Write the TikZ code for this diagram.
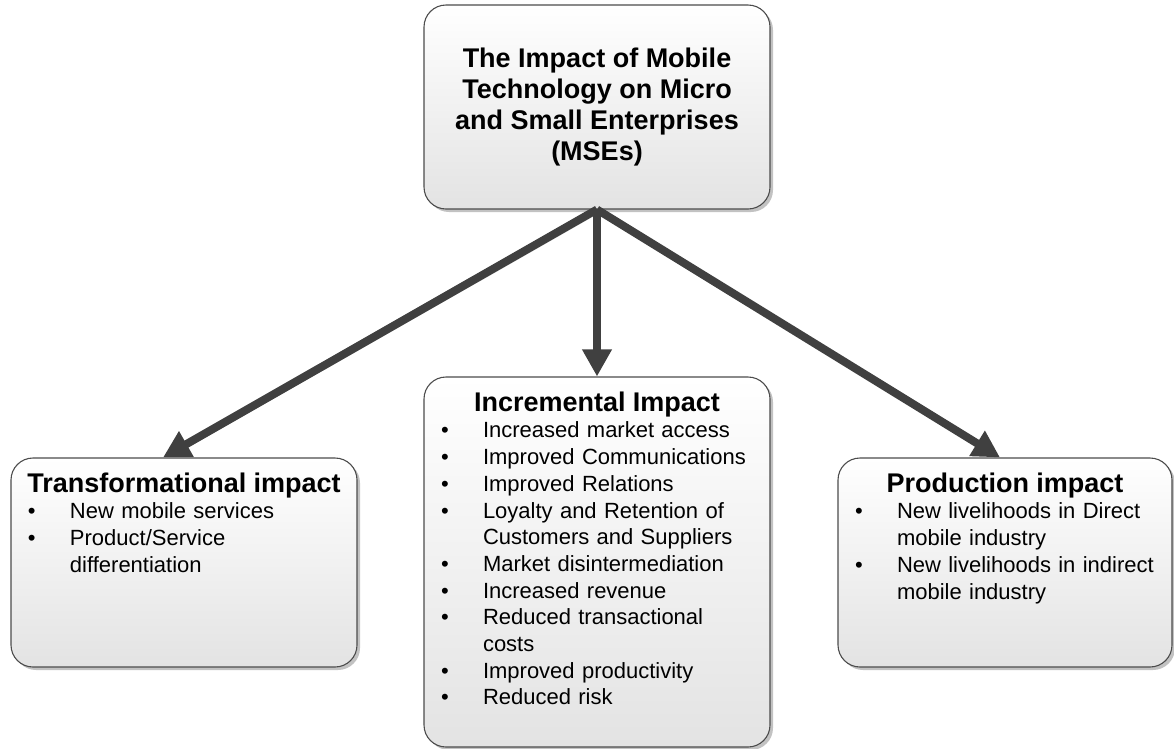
\documentclass[tikz,border=0pt]{standalone}
\usepackage{fontspec}
\setmainfont{Liberation Sans}
\usepackage{tikz}
\usetikzlibrary{positioning, arrows.meta, shadows}

% bullet line with hanging indent, and a centred bold heading
\newcommand{\bitem}[1]{\par\noindent\hangindent=43pt\hangafter=1\makebox[43pt][l]{\hspace{1pt}\textbullet}#1}
\newcommand{\boxhead}[1]{\noindent\makebox[\linewidth][c]{\fontsize{27}{31}\selectfont\bfseries #1}\par}

\begin{document}
\begin{tikzpicture}[
				x=1pt, y=-1pt,
				box/.style={
					rectangle,
					draw=black!70,
					line width=1.1pt,
					rounded corners=22pt,
					top color=white,
					bottom color=black!11,
					drop shadow={shadow xshift=3pt, shadow yshift=-3pt, fill=black!40, opacity=0.6},
					minimum width=346pt,
					inner sep=0pt
				},
				boxtext/.style={inner sep=0pt, align=left, font=\fontsize{22}{26.7}\selectfont},
				arrow/.style={-{Triangle[width=28pt,length=27pt]}, line width=8pt, draw=black!75}
				]
				\useasboundingbox (0,0) rectangle (1174,748);
				
				% --- 1. Top box (main topic) ---
				\node[box, minimum height=204pt] (mse) at (597,107) {};
				\node[align=center, font=\fontsize{27}{31}\selectfont\bfseries] (msetext) at (mse.center)
					{The Impact of Mobile\\Technology on Micro\\and Small Enterprises\\(MSEs)};
				
				% --- 2. Bottom row (three kinds of impact) ---
				\node[box, minimum height=209pt] (trans) at (184,562.5) {};
				\node[box, minimum height=370pt] (incr) at (597,562) {};
				\node[box, minimum width=334pt, minimum height=209pt] (prod) at (1005,562.5) {};
				
				% the closing \par keeps the hanging indent of the last item
				\node[boxtext, text width=314pt, below=15pt of trans.north] (transtext) {%
					\boxhead{Transformational impact}%
					\bitem{New mobile services}%
					\bitem{Product/Service\newline differentiation}\par};
				
				\node[boxtext, text width=314pt, below=15pt of incr.north] (incrtext) {%
					\boxhead{Incremental Impact}%
					\bitem{Increased market access}%
					\bitem{Improved Communications}%
					\bitem{Improved Relations}%
					\bitem{Loyalty and Retention of\newline Customers and Suppliers}%
					\bitem{Market disintermediation}%
					\bitem{Increased revenue}%
					\bitem{Reduced transactional\newline costs}%
					\bitem{Improved productivity}%
					\bitem{Reduced risk}\par};
				
				\node[boxtext, text width=302pt, below=15pt of prod.north] (prodtext) {%
					\boxhead{Production impact}%
					\bitem{New livelihoods in Direct\newline mobile industry}%
					\bitem{New livelihoods in indirect\newline mobile industry}\par};
				
				% --- 3. Arrows from the topic to each impact ---
				\draw[arrow] (mse.south) -- ([xshift=-21pt]trans.north);
				\draw[arrow] (mse.south) -- (incr.north);
				\draw[arrow] (mse.south) -- ([xshift=-5pt]prod.north);
				
			\end{tikzpicture}
\end{document}
